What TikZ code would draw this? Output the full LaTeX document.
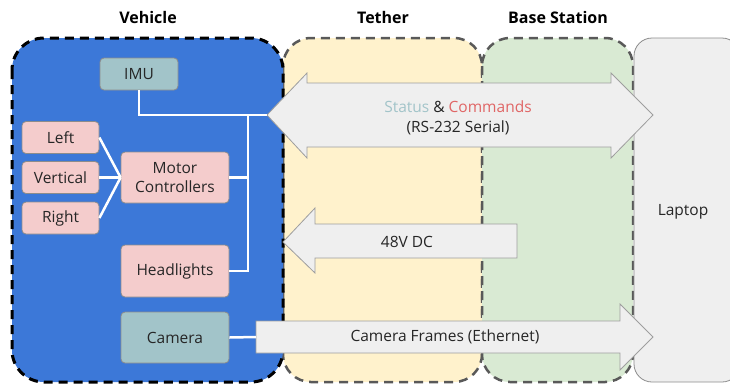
\documentclass[tikz,border=0pt]{standalone}
\usepackage{fontspec}
\setmainfont{Open Sans}
\definecolor{vehblue}{HTML}{3C78D8}
\definecolor{tetherc}{HTML}{FFF2CC}
\definecolor{basec}{HTML}{D9EAD3}
\definecolor{laptopc}{HTML}{EFEFEF}
\definecolor{tealc}{HTML}{A2C4C9}
\definecolor{pinkc}{HTML}{F4CCCC}
\definecolor{dashgray}{HTML}{595959}
\definecolor{boxline}{HTML}{8C8C8C}
\definecolor{arrowline}{HTML}{9E9E9E}
\definecolor{txt}{HTML}{262626}
\definecolor{statusc}{HTML}{A2C4C9}
\definecolor{cmdc}{HTML}{E06666}
\tikzset{
  region/.style={rounded corners=28pt, dash pattern=on 9pt off 6pt, line width=2.5pt},
  title/.style={font=\fontsize{16}{18}\selectfont\bfseries, text=black},
  comp/.style={draw=boxline, line width=0.8pt, rounded corners=4pt, text=txt, align=center, inner sep=0pt},
  wire/.style={draw=white, line width=2.5pt},
  bigarrow/.style={fill=laptopc, draw=arrowline, line width=0.8pt, line join=miter},
  lbl/.style={text=txt, align=center, font=\fontsize{15.5}{20}\selectfont}
}
\begin{document}
\begin{tikzpicture}[x=1pt,y=-1pt, font=\fontsize{15.5}{19}\selectfont]
\useasboundingbox (0,0) rectangle (730,384);
% regions
\draw[region, fill=tetherc, draw=dashgray] (283,38) rectangle (482,382);
\draw[region, fill=basec, draw=dashgray] (482,38) rectangle (633,382);
\draw[region, fill=vehblue, draw=black, line width=3pt, rounded corners=32pt] (12,38) rectangle (283,382);
\draw[fill=laptopc, draw=boxline, line width=0.8pt, rounded corners=18pt] (634,38) rectangle (740,382);
\node[lbl] (laptop) at (683,212) {Laptop};
% titles
\node[title] (tveh) at (148,17) {Vehicle};
\node[title] (tteth) at (383,17) {Tether};
\node[title] (tbase) at (558,17) {Base Station};
% components
\node[comp, fill=tealc, minimum width=78pt, minimum height=32pt] (imu) at (139,74) {IMU};
\node[comp, fill=pinkc, minimum width=77pt, minimum height=32pt] (left) at (60.5,137.5) {Left};
\node[comp, fill=pinkc, minimum width=77pt, minimum height=32pt] (vert) at (60.5,177.5) {Vertical};
\node[comp, fill=pinkc, minimum width=77pt, minimum height=32pt] (right) at (60.5,218) {Right};
\node[comp, fill=pinkc, minimum width=108pt, minimum height=51pt] (motor) at (175,177.5) {Motor\\Controllers};
\node[comp, fill=pinkc, minimum width=108pt, minimum height=52pt] (head) at (175,271) {Headlights};
\node[comp, fill=tealc, minimum width=108pt, minimum height=51pt] (cam) at (175,337.5) {Camera};
% big arrows
\coordinate (stip) at (267,115);
\coordinate (camtail) at (256,337);
\draw[bigarrow] (stip) -- (307,73) -- (307,83) -- (611,83) -- (611,73) -- (653,115) -- (611,158) -- (611,147) -- (307,147) -- (307,158) -- cycle;
\draw[bigarrow] (283,242) -- (315,208) -- (315,224) -- (517,224) -- (517,258) -- (315,258) -- (315,273) -- cycle;
\draw[bigarrow] (256,321) -- (620,321) -- (620,304) -- (653,337) -- (620,370) -- (620,353) -- (256,353) -- cycle;
\node[lbl] (status) at (458,118) {\textcolor{statusc}{Status} \& \textcolor{cmdc}{Commands}\\(RS-232 Serial)};
\node[lbl] (dc) at (407,242) {48V DC};
\node[lbl] (frames) at (445,337) {Camera Frames (Ethernet)};
% wires
\coordinate (junc) at (248,115);
\draw[wire] (imu.south) |- (stip);
\draw[wire] (junc) |- (head.east);
\draw[wire] (motor.east) -- (motor.east -| junc);
\draw[wire] (left.east) -- (motor.west);
\draw[wire] (vert.east) -- (motor.west);
\draw[wire] (right.east) -- (motor.west);
\draw[wire] (cam.east) -- (camtail);
\end{tikzpicture}
\end{document}
